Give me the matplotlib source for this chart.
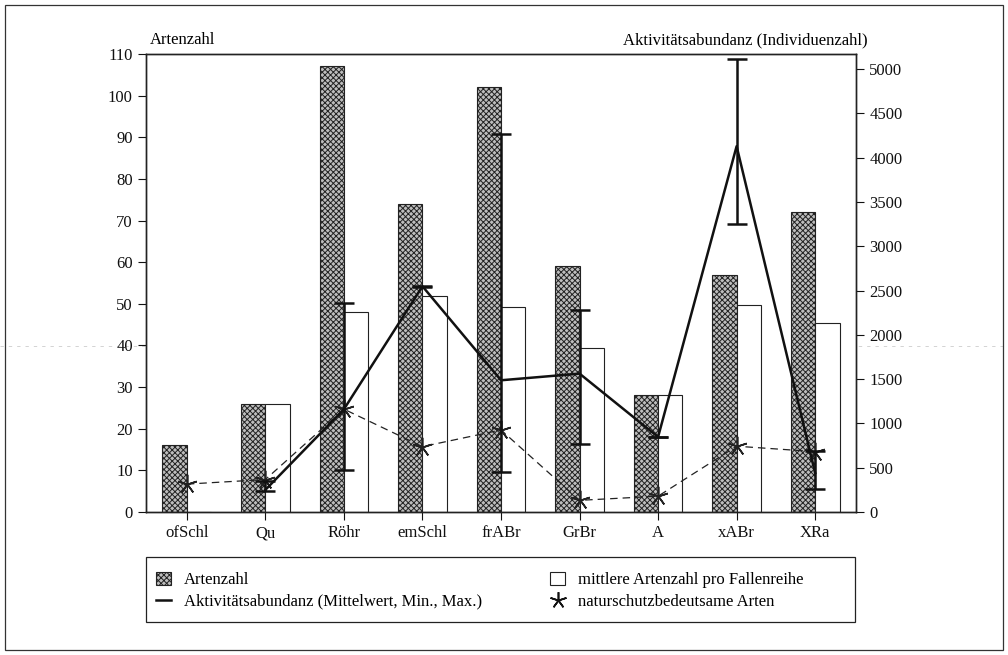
import numpy as np
import matplotlib
matplotlib.use("Agg")
import matplotlib.pyplot as plt
from matplotlib.patches import Patch, Rectangle
from matplotlib.lines import Line2D

plt.rcParams['font.family'] = ['Liberation Serif', 'DejaVu Serif']
plt.rcParams['hatch.linewidth'] = 0.7
plt.rcParams['hatch.color'] = '#505050'

# Daten
kategorien = ['ofSchl', 'Qu', 'Röhr', 'emSchl', 'frABr', 'GrBr', 'A', 'xABr', 'XRa']
artenzahl = [16, 26, 107, 74, 102, 59, 28, 57, 72]
mittlere_artenzahl = [0, 26, 48, 51.8, 49.2, 39.5, 28.1, 49.8, 45.3]
naturschutz = [6.7, 7.8, 24.7, 15.7, 19.7, 2.8, 3.8, 15.8, 14.5]
# Aktivitätsabundanz (rechte Achse), ab Qu
abund_kat = ['Qu', 'Röhr', 'emSchl', 'frABr', 'GrBr', 'A', 'xABr', 'XRa']
abund_mittel = [250, 1160, 2548, 1487, 1562, 847, 4129, 440]
abund_min = [240, 479, 2540, 452, 764, 847, 3256, 264]
abund_max = [350, 2360, 2556, 4264, 2277, 847, 5108, 690]

x = np.arange(len(kategorien))
xa = np.array([kategorien.index(k) for k in abund_kat])

fig = plt.figure(figsize=(10.08, 6.55), dpi=100)
ax = fig.add_axes([146/1008, 1 - 512/655, 710/1008, 458/655])
ax2 = ax.twinx()

w = 0.31
ax.bar(x - w/2, artenzahl, w, facecolor='#bdbdbd', edgecolor='#222222',
       hatch='xxxxxx', linewidth=0.8, zorder=2)
ax.bar(x + w/2, mittlere_artenzahl, w, facecolor='white', edgecolor='#222222',
       linewidth=0.8, zorder=2)

# naturschutzbedeutsame Arten (linke Achse)
ax.plot(x, naturschutz, color='#222222', linestyle=(0, (6, 4)), linewidth=0.9,
        marker=(5, 2, 0), markersize=14, markeredgewidth=1.2, zorder=4)

# Aktivitätsabundanz (rechte Achse)
ax2.plot(xa, abund_mittel, color='#111111', linewidth=1.8, zorder=5)
ax2.errorbar(xa, abund_mittel,
             yerr=[np.array(abund_mittel) - np.array(abund_min),
                   np.array(abund_max) - np.array(abund_mittel)],
             fmt='none', ecolor='#111111', elinewidth=1.8, capsize=7,
             capthick=1.8, zorder=5)

ax.set_xlim(-0.52, 8.52)
ax.set_ylim(0, 110)
ax.set_yticks(np.arange(0, 111, 10))
ax2.set_ylim(0, 5170)
ax2.set_yticks(np.arange(0, 5001, 500))
ax.set_xticks(x)
ax.set_xticklabels(kategorien)

for a in (ax, ax2):
    a.tick_params(direction='out', length=6, width=0.8, labelsize=12, colors='#111111')
    for s in a.spines.values():
        s.set_linewidth(1.0)
        s.set_color('#222222')

fig.text(150/1008, 1 - 40/655, 'Artenzahl', fontsize=12, va='center', ha='left')
fig.text(868/1008, 1 - 40/655, 'Aktivitätsabundanz (Individuenzahl)', fontsize=12,
         va='center', ha='right')

# Legende: zwei Spalten als getrennte Legenden, Rahmen von Hand
h_arten = Patch(facecolor='#bdbdbd', edgecolor='#222222', hatch='xxxxxx', linewidth=0.8)
h_abund = Line2D([0], [0], color='#111111', linewidth=1.8)
h_mittel = Patch(facecolor='white', edgecolor='#222222', linewidth=0.8)
h_natur = Line2D([0], [0], color='#111111', linestyle='none', marker=(5, 2, 0),
                 markersize=12, markeredgewidth=1.2)
leg_kw = dict(loc='upper left', fontsize=12, frameon=False, handlelength=0.9,
              handleheight=0.8, handletextpad=0.75, labelspacing=0.32,
              borderpad=0, borderaxespad=0)
fig.legend([h_arten, h_abund],
           ['Artenzahl', 'Aktivitätsabundanz (Mittelwert, Min., Max.)'],
           bbox_to_anchor=(156/1008, 1 - 572/655), **leg_kw)
fig.legend([h_mittel, h_natur],
           ['mittlere Artenzahl pro Fallenreihe', 'naturschutzbedeutsame Arten'],
           bbox_to_anchor=(550/1008, 1 - 572/655), **leg_kw)
fig.add_artist(Rectangle((146/1008, 1 - 622/655), 709/1008, 65/655,
                         transform=fig.transFigure, fill=False,
                         edgecolor='#222222', linewidth=0.9))

# Rahmen um die ganze Abbildung
fig.add_artist(Rectangle((5/1008, 5/655), 998/1008, 645/655, transform=fig.transFigure,
                         fill=False, edgecolor='#333333', linewidth=0.9))
# schwache Scanlinie
fig.add_artist(Line2D([0, 1], [1 - 346/655] * 2, transform=fig.transFigure,
                      color='#cccccc', linewidth=0.6, linestyle=(0, (4, 6)), zorder=0))

fig.savefig('out.png', dpi=100)
